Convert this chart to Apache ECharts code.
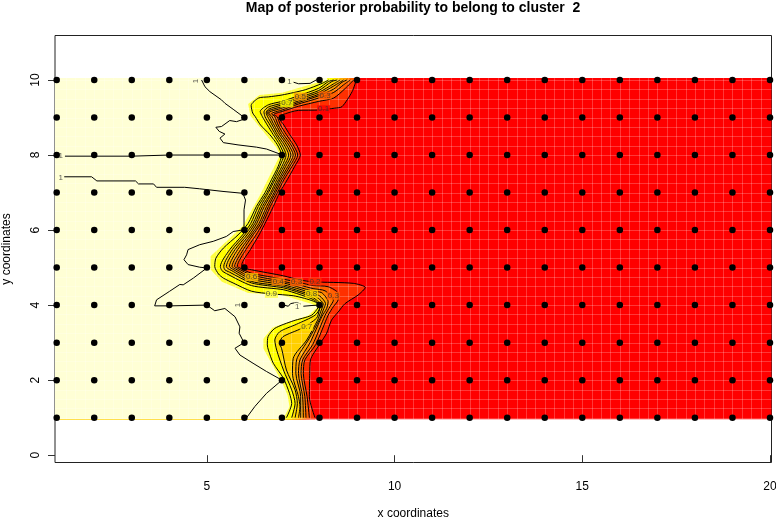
<!DOCTYPE html>
<html><head><meta charset="utf-8">
<style>html,body{margin:0;padding:0;background:#fff}#c{width:776px;height:518px}</style>
<script src="https://cdn.jsdelivr.net/npm/echarts@6/dist/echarts.min.js"></script>
</head><body><div id="c"></div>
<script>
const chartTitle = 'Map of posterior probability to belong to cluster  2';
const xTicks = [5, 10, 15, 20];
const yTicks = [0, 2, 4, 6, 8, 10];
const gridX = [1,2,3,4,5,6,7,8,9,10,11,12,13,14,15,16,17,18,19,20];
const gridY = [1,2,3,4,5,6,7,8,9,10];
const imageX = [0.955, 20.04];
const imageY = [0.96, 10.05];

const level01 = [[8.98,10],[8.87,9.69],[8.6,9.29],[8.41,9.25],[7.98,9.20],[7.44,9.19],[7.0,9.07],[6.92,9.0],[7.05,8.80],[7.21,8.54],[7.39,8.27],[7.49,8.0],[7.34,7.70],[7.14,7.34],[6.94,7.0],[6.77,6.63],[6.55,6.18],[6.39,5.87],[6.16,5.48],[5.93,5.07],[5.95,5.0],[6.19,4.94],[7.04,4.78],[7.48,4.67],[7.83,4.62],[8.9,4.58],[9.22,4.47],[9.03,4.27],[8.68,4.04],[8.50,3.82],[8.32,3.60],[8.19,3.25],[8.0,2.95],[7.76,2.54],[7.74,2.18],[7.73,1.56],[7.88,1.0]];
const level02 = [[8.91,10],[8.69,9.78],[8.38,9.52],[7.98,9.43],[7.44,9.30],[7.0,9.16],[6.78,9.08],[6.87,9.02],[6.96,8.80],[7.12,8.54],[7.30,8.27],[7.42,8.0],[7.27,7.70],[7.05,7.34],[6.88,7.0],[6.69,6.63],[6.49,6.18],[6.31,5.87],[6.04,5.48],[5.81,5.03],[5.86,5.0],[6.19,4.85],[7.04,4.69],[7.48,4.60],[7.83,4.52],[8.23,4.49],[8.50,4.31],[8.50,4.15],[8.37,3.96],[8.23,3.73],[7.9,2.95],[7.61,2.54],[7.57,2.18],[7.67,1.56],[7.73,1.0]];
const level03 = [[8.82,10],[8.64,9.87],[8.38,9.67],[7.98,9.52],[7.44,9.36],[7.0,9.20],[6.72,9.10],[6.81,9.02],[6.90,8.80],[7.05,8.54],[7.24,8.27],[7.36,8.0],[7.21,7.70],[7.0,7.34],[6.83,7.0],[6.64,6.63],[6.44,6.18],[6.23,5.87],[5.97,5.48],[5.74,5.03],[5.82,4.98],[6.19,4.80],[7.04,4.63],[7.48,4.53],[7.83,4.44],[8.15,4.38],[8.37,4.13],[8.28,3.96],[8.15,3.73],[7.82,2.95],[7.55,2.54],[7.51,2.18],[7.61,1.56],[7.64,1.0]];
const level04 = [[8.73,10],[8.6,9.94],[8.38,9.76],[7.98,9.58],[7.44,9.40],[7.0,9.25],[6.64,9.12],[6.74,9.02],[6.85,8.80],[6.99,8.54],[7.18,8.27],[7.30,8.0],[7.16,7.70],[6.95,7.34],[6.79,7.0],[6.59,6.63],[6.39,6.18],[6.18,5.87],[5.90,5.48],[5.67,5.03],[5.77,4.96],[6.19,4.74],[7.04,4.59],[7.48,4.47],[7.83,4.37],[8.06,4.33],[8.23,4.09],[8.19,3.91],[8.06,3.69],[7.75,3.0],[7.48,2.54],[7.44,2.18],[7.55,1.56],[7.57,1.0]];
const level05 = [[8.64,10],[8.38,9.84],[7.98,9.62],[7.44,9.44],[7.0,9.29],[6.64,9.18],[6.62,9.10],[6.68,9.02],[6.79,8.80],[6.94,8.54],[7.12,8.27],[7.24,8.0],[7.10,7.70],[6.91,7.34],[6.74,7.0],[6.53,6.63],[6.33,6.18],[6.13,5.87],[5.82,5.48],[5.60,5.03],[5.72,4.94],[6.19,4.69],[7.04,4.54],[7.48,4.42],[7.83,4.31],[8.01,4.24],[8.16,4.04],[8.10,3.87],[8.01,3.64],[7.72,3.1],[7.39,2.54],[7.37,2.18],[7.50,1.56],[7.50,1.0]];
const level06 = [[8.55,10],[8.38,9.9],[7.98,9.67],[7.44,9.49],[7.0,9.34],[6.64,9.22],[6.58,9.12],[6.62,9.02],[6.74,8.80],[6.88,8.54],[7.06,8.27],[7.18,8.0],[7.05,7.70],[6.86,7.34],[6.70,7.0],[6.48,6.63],[6.28,6.18],[6.07,5.87],[5.75,5.48],[5.52,5.03],[5.55,4.98],[5.66,4.92],[6.19,4.63],[7.04,4.50],[7.48,4.37],[7.83,4.26],[7.97,4.18],[8.10,4.03],[8.03,3.82],[7.95,3.60],[7.66,3.07],[7.30,2.58],[7.28,2.18],[7.44,1.56],[7.48,1.29],[7.44,1.0]];
const level07 = [[8.47,10],[8.33,9.96],[7.98,9.72],[7.44,9.53],[7.0,9.38],[6.64,9.28],[6.52,9.15],[6.55,9.02],[6.68,8.80],[6.83,8.54],[7.0,8.27],[7.11,8.0],[7.0,7.70],[6.81,7.34],[6.64,7.0],[6.43,6.63],[6.23,6.18],[6.01,5.87],[5.68,5.48],[5.45,5.03],[5.48,4.94],[5.60,4.88],[6.19,4.59],[7.04,4.46],[7.48,4.33],[7.83,4.20],[8.03,4.0],[8.0,3.88],[7.92,3.65],[7.52,3.38],[7.03,3.16],[6.93,2.98],[6.99,2.85],[7.12,2.27],[7.35,1.74],[7.41,1.38],[7.35,1.0]];
const level08 = [[8.38,10],[8.24,9.96],[7.98,9.78],[7.44,9.58],[7.0,9.43],[6.64,9.34],[6.42,9.16],[6.48,9.02],[6.61,8.80],[6.77,8.54],[6.94,8.27],[7.05,8.0],[6.94,7.70],[6.77,7.34],[6.60,7.0],[6.37,6.63],[6.17,6.18],[5.95,5.87],[5.61,5.48],[5.36,5.03],[5.40,4.92],[5.52,4.84],[6.19,4.52],[7.04,4.41],[7.48,4.28],[7.83,4.15],[7.99,4.02],[8.0,3.92],[7.88,3.73],[7.39,3.49],[6.94,3.29],[6.81,3.07],[6.86,2.80],[7.04,2.27],[7.26,1.74],[7.35,1.38],[7.26,1.0]];
const level09 = [[8.24,10],[8.07,9.91],[7.62,9.74],[7.0,9.60],[6.64,9.55],[6.38,9.52],[6.18,9.32],[6.22,9.12],[6.29,9.02],[6.43,8.80],[6.68,8.54],[6.88,8.27],[6.99,8.0],[6.90,7.70],[6.72,7.34],[6.55,7.0],[6.32,6.63],[6.10,6.18],[5.83,5.87],[5.44,5.52],[5.24,5.25],[5.21,5.03],[5.31,4.83],[5.44,4.72],[5.70,4.59],[6.19,4.37],[6.72,4.30],[7.30,4.25],[7.6,4.18],[7.85,4.10],[8.0,4.0],[7.97,3.94],[7.79,3.73],[7.30,3.58],[6.81,3.38],[6.63,3.16],[6.61,2.94],[6.64,2.80],[6.77,2.45],[7.04,2.05],[7.2,1.65],[7.26,1.38],[7.12,1.0]];
const yellowEdge = [[8.2,10],[7.9,9.92],[7.0,9.66],[6.4,9.6],[6.1,9.36],[6.16,9.05],[6.85,8.2],[6.95,8.0],[6.4,6.9],[5.95,6.1],[5.1,5.3],[5.1,4.95],[5.4,4.62],[6.1,4.32],[7.0,4.27],[7.8,4.03],[7.95,3.95],[7.7,3.72],[6.75,3.4],[6.5,3.1],[6.5,2.85],[7.0,1.95],[7.15,1.6],[7.2,1.3],[7.05,1.0]];

const contourOneA = [[4.86,10.0],[4.95,9.82],[5.08,9.69],[5.39,9.47],[5.48,9.38],[5.70,9.22],[5.97,9.02],[6.03,8.97],[5.79,8.89],[5.61,8.92],[5.39,8.76],[5.24,8.74],[5.33,8.63],[5.48,8.56],[5.35,8.45],[5.44,8.33],[5.83,8.27],[6.32,8.21],[6.59,8.16],[6.99,8.01]];
const contourOneB = [[1.22,7.97],[3,7.97],[4,8.0],[5,8.0],[6,8.0],[7,8.0]];
const contourOneC = [[1.2,7.42],[1.93,7.42],[2.07,7.31],[3.10,7.31],[3.18,7.23],[3.58,7.23],[3.66,7.14],[4.41,7.14],[4.81,7.10],[5.43,7.03],[5.96,6.98],[6.03,6.80],[5.99,6.54],[5.99,6.01],[5.70,5.96],[5.52,5.83],[5.17,5.70],[4.81,5.61],[4.50,5.48],[4.46,5.34],[4.39,5.21],[4.50,5.08],[4.81,5.01],[5.0,4.99],[4.64,4.72],[4.37,4.54],[4.28,4.55],[4.01,4.37],[3.66,4.14],[3.61,3.98],[4.01,3.98],[5.0,4.0],[5.21,3.85],[5.48,3.91],[5.75,3.69],[5.88,3.42],[5.86,3.25],[5.99,3.0],[5.75,2.85],[5.88,2.67],[6.23,2.45],[6.59,2.23],[7.0,2.0],[6.59,1.65],[6.28,1.30],[6.06,1.0]];
const contourOneD = [[7.31,9.94],[7.44,9.90],[7.75,9.91],[7.93,10.01]];
const contourOneE = [[7.05,4.0],[7.17,3.97],[7.23,4.04],[7.39,4.07],[7.5,4.03]];
const contourOneF = [[7.57,3.97],[7.8,3.99],[8.0,4.0]];
const contourOneG = [[5.88,4.0],[6.0,4.0]];

const labelX = [1.11,1.11,7.2,4.71,5.82,7.41,7.13,7.49,8.15,8.11,6.19,6.9,7.39,7.88,6.72,7.79,8.37,7.66];
const labelY = [7.97,7.40,9.94,9.97,4.0,3.96,9.38,9.56,9.59,9.22,4.75,4.63,4.61,4.63,4.30,4.30,4.25,3.42];
const labelText = ['1','1','1','1','1','1','0.7','0.5','0.3','0.1','0.6','0.4','0.3','0.2','0.9','0.8','0.3','0.7'];
const labelRotate = [0,0,0,90,90,0,0,0,0,0,0,0,0,0,0,0,0,0];
const labelBg = ['#FFFFD5','#FFFFD5','#FFFFD5','#FFFFD5','#FFFFD5','#FFFFD5','#FFFF00','#FF9F00','#FF6000','#FF0000','#FFBF00','#FF8000','#FF6000','#FF3000','#FFFF40','#FFDF00','#FF6000','#FFDF00'];

const fillColors = ['#FF0000','#FF3000','#FF6000','#FF8000','#FF9F00','#FFB000','#FFCF00','#FFDF00','#FFFF00','#FFFF40','#FFFFD5'];
const fillCurves = [level01,level02,level03,level04,level05,level06,level07,level08,level09,yellowEdge];
const contourCurves = [level01,level02,level03,level04,level05,level06,level07,level08,level09];
const onesCurves = [contourOneA,contourOneB,contourOneC,contourOneD,contourOneE,contourOneF,contourOneG];

function leftOf(curve){
  const out = [[imageX[0],imageY[1]],[curve[0][0],imageY[1]]];
  curve.forEach(p=>out.push(p));
  out.push([curve[curve.length-1][0],imageY[0]]);
  out.push([imageX[0],imageY[0]]);
  return out;
}
const fillPolys = [[[imageX[0],imageY[1]],[imageX[1],imageY[1]],[imageX[1],imageY[0]],[imageX[0],imageY[0]]]].concat(fillCurves.map(leftOf));

const dots = [];
gridY.forEach(y=>gridX.forEach(x=>dots.push([x,y])));

const series = [];
series.push({type:'custom',coordinateSystem:'cartesian2d',z:1,silent:true,clip:true,
  data:fillPolys.map((_,i)=>[i]),
  renderItem(params,api){
    const i = params.dataIndex;
    return {type:'polygon',shape:{points:fillPolys[i].map(p=>api.coord(p))},style:{fill:fillColors[i]}};
  }});
series.push({type:'custom',coordinateSystem:'cartesian2d',z:2,silent:true,clip:true,
  data:[[0]],
  renderItem(params,api){
    const kids=[];
    const top=api.coord([1,imageY[1]])[1], bot=api.coord([1,imageY[0]])[1];
    const lef=api.coord([imageX[0],1])[0], rig=api.coord([imageX[1],1])[0];
    for(let k=1;k<76;k++){
      const px=Math.round(api.coord([1+k*0.25,1])[0])+0.5;
      kids.push({type:'line',shape:{x1:px,y1:top,x2:px,y2:bot},style:{stroke:'rgba(255,255,255,0.22)',lineWidth:1}});
    }
    for(let k=0;k<=36;k++){
      const py=Math.round(api.coord([1,1+k*0.25])[1])+0.5;
      kids.push({type:'line',shape:{x1:lef,y1:py,x2:rig,y2:py},style:{stroke:'rgba(255,255,255,0.22)',lineWidth:1}});
    }
    return {type:'group',children:kids};
  }});
contourCurves.forEach(c=>series.push({type:'line',data:c,z:3,smooth:0.25,showSymbol:false,silent:true,animation:false,
  lineStyle:{color:'#000',width:1}}));
onesCurves.forEach(c=>series.push({type:'line',data:c,z:3,smooth:false,showSymbol:false,silent:true,animation:false,
  lineStyle:{color:'#000',width:1}}));
series.push({type:'scatter',z:4,silent:true,symbolSize:0,clip:false,
  data:labelX.map((x,i)=>({value:[x,labelY[i]],label:{show:true,position:'inside',formatter:labelText[i],rotate:labelRotate[i],
    fontFamily:'Liberation Sans',fontSize:8,color:'#333',backgroundColor:labelBg[i],padding:[0,1]}}))});
series.push({type:'scatter',z:5,silent:true,clip:true,symbol:'circle',symbolSize:6.5,itemStyle:{color:'#000',opacity:1},data:dots});

const font = 'Liberation Sans';
const chart = echarts.init(document.getElementById('c'),null,{renderer:'canvas'});
chart.setOption({
  animation:false,backgroundColor:'#fff',
  title:{text:chartTitle,left:408,top:-4,textAlign:'center',textStyle:{fontFamily:font,fontSize:14,fontWeight:'bold',color:'#000'}},
  grid:{left:55,top:35.5,width:716.5,height:427,outerBoundsMode:'none',show:true,borderColor:'#222',borderWidth:1,backgroundColor:'transparent',containLabel:false},
  xAxis:{type:'value',min:0.955,max:20.04,name:'x coordinates',nameLocation:'middle',nameGap:45,
    nameTextStyle:{fontFamily:font,fontSize:12,color:'#000'},
    axisLine:{show:false},splitLine:{show:false},
    axisTick:{show:true,length:7,customValues:xTicks,lineStyle:{color:'#333'}},
    axisLabel:{customValues:xTicks,margin:18,fontFamily:font,fontSize:12,color:'#000',hideOverlap:false,showMinLabel:true,showMaxLabel:true}},
  yAxis:{type:'value',min:-0.195,max:11.186,name:'y coordinates',nameLocation:'middle',nameGap:42,
    nameTextStyle:{fontFamily:font,fontSize:12,color:'#000'},
    axisLine:{show:false},splitLine:{show:false},
    axisTick:{show:true,length:7,customValues:yTicks,lineStyle:{color:'#333'}},
    axisLabel:{customValues:yTicks,rotate:90,margin:19,fontFamily:font,fontSize:12,color:'#000',align:'center',verticalAlign:'middle'}},
  series
});
</script></body></html>
